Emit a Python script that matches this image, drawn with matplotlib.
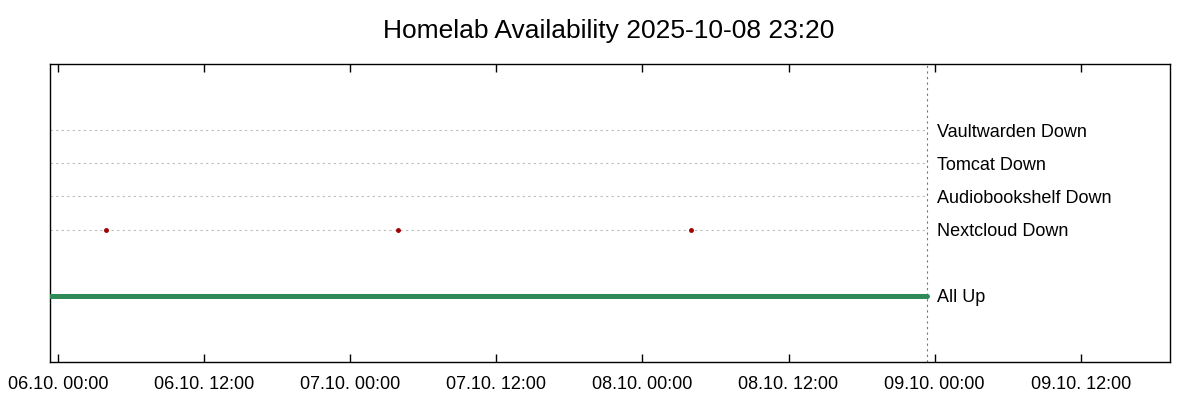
import matplotlib
matplotlib.use("Agg")
from matplotlib import pyplot as plt
import matplotlib.dates as mdates
from datetime import datetime, timedelta

plt.rcParams['font.family'] = ['Liberation Sans', 'DejaVu Sans']

now = datetime(2025, 10, 8, 23, 20)
start = now - timedelta(days=3)

services = ["Nextcloud", "Audiobookshelf", "Tomcat", "Vaultwarden"]
levels = [2, 3, 4, 5]
up_level = 0
# Nextcloud outages (one short dip every night)
nextcloud_down = [datetime(2025, 10, 6, 3, 57),
                  datetime(2025, 10, 7, 3, 57),
                  datetime(2025, 10, 8, 3, 57)]

fig = plt.figure(figsize=(12, 4), dpi=100)
ax = fig.add_axes([50/1200, 38/400, 1120/1200, 298/400])

# status grid lines, only up to "now"
for lv in levels:
    ax.plot([start, now], [lv, lv], color='#bbbbbb', lw=0.8,
            linestyle=(0, (2, 3)), zorder=1)
ax.axvline(now, color='#777777', lw=0.8, linestyle=(0, (2, 3)), zorder=1)

ax.plot([start, now], [up_level, up_level], color='#2e8b57', lw=3.6,
        solid_capstyle='round', zorder=3)
ax.plot(nextcloud_down, [levels[0]] * len(nextcloud_down), 'o',
        color='#a00000', ms=2.5, zorder=3)

label_x = now + timedelta(minutes=50)
for name, lv in zip(services, levels):
    ax.text(label_x, lv, name + " Down", fontsize=13, va='center_baseline', ha='left')
ax.text(label_x, up_level, "All Up", fontsize=13, va='center_baseline', ha='left')

ax.set_xlim(start, now + timedelta(hours=20))
ax.set_ylim(-2, 7)
ax.set_yticks([])
ax.xaxis.set_major_locator(mdates.HourLocator(byhour=[0, 12]))
ax.xaxis.set_major_formatter(mdates.DateFormatter('%d.%m. %H:%M'))
ax.tick_params(axis='x', direction='in', length=6, width=1, top=True,
               labelsize=13, pad=10)
for s in ax.spines.values():
    s.set_linewidth(1)

fig.text(609/1200, 1 - 31/400, "Homelab Availability 2025-10-08 23:20",
         fontsize=19, ha='center', va='center')

fig.savefig("out.png", dpi=100)
